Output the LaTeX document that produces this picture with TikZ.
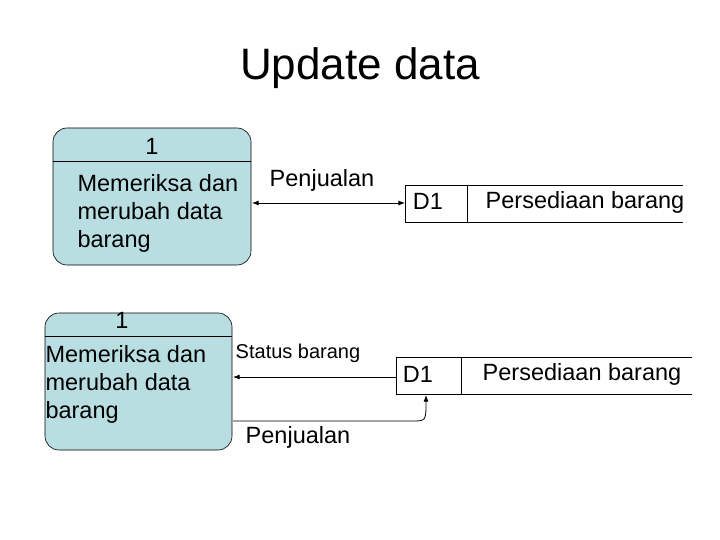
\documentclass[tikz,border=0pt]{standalone}
\usepackage{fontspec}
\setmainfont{Liberation Sans}
\usetikzlibrary{arrows.meta}
\definecolor{procblue}{RGB}{184,222,226}

\begin{document}
\begin{tikzpicture}[x=1pt, y=-1pt,
    proc/.style={draw, fill=procblue, rounded corners=14pt, line width=0.6pt},
    store/.style={line width=0.8pt},
    lbl/.style={font=\fontsize{23.5}{28}\selectfont},
    txt/.style={font=\fontsize{23.5}{28}\selectfont, align=left, anchor=north west},
    arrow/.style={-Latex, line width=0.8pt}
  ]
  \useasboundingbox (0,0) rectangle (720,540);
  \node[font=\fontsize{44}{52}\selectfont] (title) at (360,68) {Update data};

  % top process and store
  \draw[proc] (53,128) rectangle (251,265);
  \draw (53,161) -- (251,161);
  \node[lbl] (pnum) at (152,146) {1};
  \node[txt] (ptext) at (74,171) {Memeriksa dan\\merubah data\\barang};
  \coordinate (pe) at (252,203);
  \draw[store] (683,185) -- (405,185) -- (405,222) -- (683,222);
  \draw[store] (467,185) -- (467,222);
  \coordinate (dw) at (405,203);
  \node[lbl] (d1) at (428,201) {D1};
  \node[lbl] (dname) at (585,202) {Persediaan barang};
  \draw[arrow, Latex-Latex] (pe) -- (dw);
  \node[lbl] (jual1) at (322,180) {Penjualan};

  % bottom process and store
  \draw[proc] (45,313) rectangle (232,450);
  \draw (45,336) -- (232,336);
  \node[lbl] (qnum) at (122,320) {1};
  \node[txt] (qtext) at (42,342) {Memeriksa dan\\merubah data\\barang};
  \draw[store] (692,357) -- (396,357) -- (396,394) -- (692,394);
  \draw[store] (461,357) -- (461,394);
  \node[lbl] (d2) at (418,374) {D1};
  \node[lbl] (ename) at (582,374) {Persediaan barang};
  \coordinate (qe) at (233,377);
  \coordinate (ew) at (396,377);
  \coordinate (qb) at (233,421);
  \coordinate (eb) at (426,395);
  \draw[arrow] (ew) -- (qe);
  \node[font=\fontsize{20}{24}\selectfont] (status) at (298,353) {Status barang};
  \draw[arrow] (qb) -- (412,421) .. controls (426,421) .. (eb);
  \node[lbl] (jual2) at (298,437) {Penjualan};
\end{tikzpicture}
\end{document}
